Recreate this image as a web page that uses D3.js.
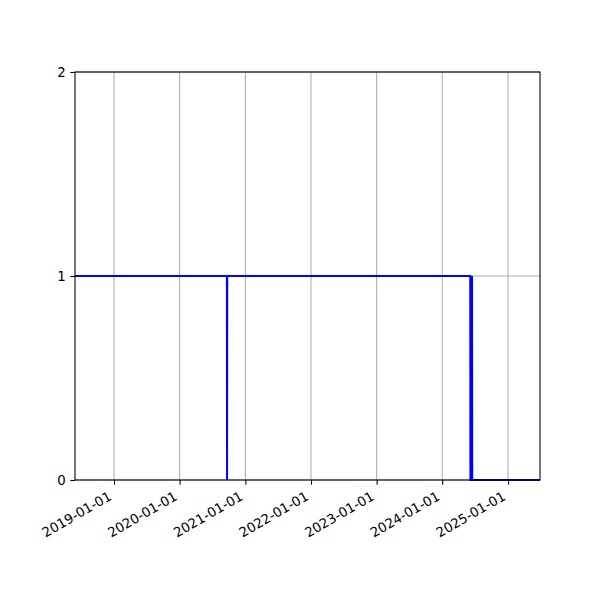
<html>
<head>
<style>
  body { margin: 0; background: #fff; }
  text { font-family: "DejaVu Sans", sans-serif; font-size: 13.3px; fill: #000; }
  .grid line { stroke: #b0b0b0; stroke-width: 1.07px; }
  .series { fill: none; stroke: #0000ff; stroke-width: 2px; }
</style>
<script src="https://d3js.org/d3.v7.min.js"></script>
</head>
<body>
<script>
// series (value per date)
const dates = ["2018-05-29", "2020-09-20", "2020-09-21", "2020-09-22", "2024-06-05",
               "2024-06-06", "2024-06-14", "2024-06-15", "2024-06-16", "2025-06-28"]
const values = [1, 1, 0, 1, 1, 0, 0, 1, 0, 0]
const xDomain = ["2018-05-29", "2025-06-28"]
const xTicks = ["2019-01-01", "2020-01-01", "2021-01-01", "2022-01-01", "2023-01-01", "2024-01-01", "2025-01-01"]
const yTicks = [0, 1, 2]

const parse = d3.utcParse('%Y-%m-%d')
const fmt = d3.utcFormat('%Y-%m-%d')

const W = 600, H = 600
const m = {left: 75, right: 60, top: 72, bottom: 120}

const svg = d3.select('body').append('svg').attr('width', W).attr('height', H)

const x = d3.scaleUtc().domain(xDomain.map(parse)).range([m.left, W - m.right])
const y = d3.scaleLinear().domain([0, 2]).range([H - m.bottom, m.top])

// grid
const grid = svg.append('g').classed('grid', true)
grid.selectAll('line.vx').data(xTicks.map(parse)).enter().append('line')
  .attr('x1', d => x(d)).attr('x2', d => x(d))
  .attr('y1', m.top).attr('y2', H - m.bottom)
grid.selectAll('line.hy').data(yTicks).enter().append('line')
  .attr('x1', m.left).attr('x2', W - m.right)
  .attr('y1', d => y(d)).attr('y2', d => y(d))

// line, a point per date
const pts = dates.map((d, i) => ({t: parse(d), v: values[i]}))
svg.append('path').classed('series', true)
  .attr('d', d3.line().x(d => x(d.t)).y(d => y(d.v))(pts))

// frame
svg.append('rect')
  .attr('x', m.left).attr('y', m.top)
  .attr('width', W - m.left - m.right).attr('height', H - m.top - m.bottom)
  .attr('fill', 'none').attr('stroke', '#000').attr('stroke-width', 1.07)

// axes
const xAxis = svg.append('g')
  .attr('transform', `translate(0,${H - m.bottom})`)
  .call(d3.axisBottom(x).tickValues(xTicks.map(parse)).tickFormat(fmt).tickSizeOuter(0).tickSizeInner(4.67))
xAxis.select('.domain').remove()
xAxis.selectAll('line').attr('stroke', '#000').attr('stroke-width', 1.07)
xAxis.selectAll('text')
  .attr('font-size', null).attr('font-family', null)
  .attr('text-anchor', 'end')
  .attr('y', 0).attr('dy', 0)
  .attr('transform', 'translate(-2,19) rotate(-30)')

const yAxis = svg.append('g')
  .attr('transform', `translate(${m.left},0)`)
  .call(d3.axisLeft(y).tickValues(yTicks).tickFormat(d3.format('d')).tickSizeOuter(0).tickSizeInner(4.67).tickPadding(4.67))
yAxis.select('.domain').remove()
yAxis.selectAll('line').attr('stroke', '#000').attr('stroke-width', 1.07)
yAxis.selectAll('text').attr('font-size', null).attr('font-family', null)
</script>
</body>
</html>
